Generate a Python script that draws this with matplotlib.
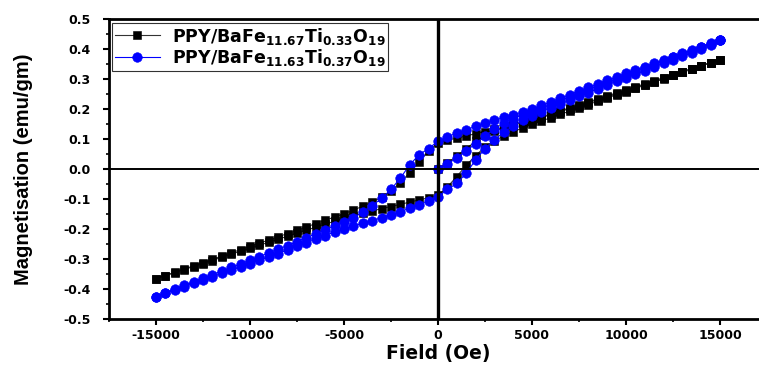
import matplotlib
matplotlib.use('Agg')
import matplotlib.pyplot as plt
from matplotlib.ticker import MultipleLocator, FormatStrFormatter

# ---------------- data ----------------
field_virgin = [0, 500, 1000, 1500, 2000, 2500, 3000, 3500, 4000, 4500, 5000,
                5500, 6000, 6500, 7000, 7500, 8000, 8500, 9000, 9500, 10000,
                10500, 11000, 11500, 12000, 12500, 13000, 13500, 14000, 14500, 15000]

field_down = [15000, 14500, 14000, 13500, 13000, 12500, 12000, 11500, 11000, 10500,
              10000, 9500, 9000, 8500, 8000, 7500, 7000, 6500, 6000, 5500,
              5000, 4500, 4000, 3500, 3000, 2500, 2000, 1500, 1000, 500,
              0, -500, -1000, -1500, -2000, -2500, -3000, -3500, -4000, -4500,
              -5000, -5500, -6000, -6500, -7000, -7500, -8000, -8500, -9000, -9500,
              -10000, -10500, -11000, -11500, -12000, -12500, -13000, -13500, -14000, -14500,
              -15000]

field_up = [-15000, -14500, -14000, -13500, -13000, -12500, -12000, -11500, -11000, -10500,
            -10000, -9500, -9000, -8500, -8000, -7500, -7000, -6500, -6000, -5500,
            -5000, -4500, -4000, -3500, -3000, -2500, -2000, -1500, -1000, -500,
            0, 500, 1000, 1500, 2000, 2500, 3000, 3500, 4000, 4500,
            5000, 5500, 6000, 6500, 7000, 7500, 8000, 8500, 9000, 9500,
            10000, 10500, 11000, 11500, 12000, 12500, 13000, 13500, 14000, 14500,
            15000]

# PPY/BaFe11.67Ti0.33O19 (black squares)
black_virgin = [0.000, 0.020, 0.043, 0.068, 0.092, 0.112, 0.127, 0.137, 0.146, 0.154, 0.161,
                0.171, 0.181, 0.191, 0.201, 0.211, 0.221, 0.231, 0.241, 0.251, 0.261,
                0.271, 0.281, 0.291, 0.302, 0.312, 0.322, 0.333, 0.343, 0.354, 0.365]
black_down = [0.365, 0.355, 0.345, 0.335, 0.325, 0.315, 0.305, 0.294, 0.284, 0.274,
              0.264, 0.254, 0.244, 0.234, 0.224, 0.214, 0.204, 0.194, 0.184, 0.174,
              0.164, 0.156, 0.148, 0.140, 0.132, 0.125, 0.118, 0.110, 0.103, 0.096,
              0.088, 0.060, 0.025, -0.012, -0.045, -0.073, -0.094, -0.110, -0.124, -0.137,
              -0.149, -0.160, -0.171, -0.182, -0.193, -0.204, -0.215, -0.226, -0.237, -0.247,
              -0.258, -0.269, -0.279, -0.290, -0.301, -0.312, -0.323, -0.333, -0.344, -0.355,
              -0.365]
black_up = [-0.365, -0.355, -0.345, -0.335, -0.325, -0.315, -0.305, -0.294, -0.284, -0.274,
            -0.264, -0.254, -0.244, -0.234, -0.224, -0.214, -0.204, -0.194, -0.184, -0.174,
            -0.164, -0.156, -0.148, -0.140, -0.132, -0.125, -0.118, -0.110, -0.103, -0.096,
            -0.088, -0.060, -0.025, 0.012, 0.045, 0.073, 0.094, 0.110, 0.124, 0.137,
            0.149, 0.160, 0.171, 0.182, 0.193, 0.204, 0.215, 0.226, 0.237, 0.247,
            0.258, 0.269, 0.279, 0.290, 0.301, 0.312, 0.323, 0.333, 0.344, 0.355,
            0.365]

# PPY/BaFe11.63Ti0.37O19 (blue circles)
blue_virgin = [0.000, 0.017, 0.037, 0.060, 0.085, 0.110, 0.133, 0.153, 0.168, 0.180, 0.191,
               0.203, 0.215, 0.228, 0.240, 0.252, 0.265, 0.277, 0.289, 0.301, 0.313,
               0.325, 0.336, 0.348, 0.360, 0.372, 0.383, 0.395, 0.407, 0.418, 0.430]
blue_down = [0.430, 0.419, 0.408, 0.397, 0.386, 0.375, 0.364, 0.352, 0.341, 0.330,
             0.319, 0.307, 0.296, 0.284, 0.272, 0.260, 0.248, 0.236, 0.224, 0.212,
             0.200, 0.190, 0.181, 0.172, 0.162, 0.152, 0.142, 0.131, 0.120, 0.107,
             0.093, 0.068, 0.048, 0.014, -0.030, -0.068, -0.098, -0.122, -0.144, -0.162,
             -0.177, -0.190, -0.203, -0.216, -0.229, -0.242, -0.255, -0.267, -0.280, -0.292,
             -0.304, -0.316, -0.328, -0.340, -0.352, -0.364, -0.376, -0.388, -0.400, -0.412,
             -0.425]
blue_up = [-0.425, -0.414, -0.403, -0.392, -0.381, -0.370, -0.359, -0.348, -0.337, -0.326,
           -0.315, -0.304, -0.293, -0.282, -0.270, -0.258, -0.246, -0.234, -0.222, -0.210,
           -0.200, -0.190, -0.181, -0.172, -0.162, -0.152, -0.142, -0.131, -0.120, -0.107,
           -0.093, -0.068, -0.048, -0.014, 0.030, 0.068, 0.098, 0.122, 0.144, 0.162,
           0.177, 0.190, 0.203, 0.216, 0.229, 0.242, 0.255, 0.267, 0.280, 0.292,
           0.304, 0.316, 0.328, 0.340, 0.352, 0.364, 0.376, 0.388, 0.400, 0.412,
           0.430]

label_black = r'PPY/BaFe$_{11.67}$Ti$_{0.33}$O$_{19}$'
label_blue = r'PPY/BaFe$_{11.63}$Ti$_{0.37}$O$_{19}$'

x_label = 'Field (Oe)'
y_label = 'Magnetisation (emu/gm)'

# ---------------- figure ----------------
plt.rcParams['font.family'] = ['DejaVu Sans']
plt.rcParams['font.weight'] = 'bold'
plt.rcParams['axes.unicode_minus'] = False
plt.rcParams['mathtext.fontset'] = 'dejavusans'
plt.rcParams['mathtext.default'] = 'bf'

fig = plt.figure(figsize=(7.59, 3.65), dpi=100)
ax = fig.add_axes([109 / 759, 46 / 365, 658 / 759, 300 / 365])

bx = field_virgin + field_down + field_up
by = black_virgin + black_down + black_up
ux = field_virgin + field_down + field_up
uy = blue_virgin + blue_down + blue_up

ax.plot(bx, by, color='#333333', lw=0.8, marker='s', ms=6.3, mew=0.4,
        mfc='black', mec='black', label=label_black, zorder=2)
ax.plot(ux, uy, color='#0000FF', lw=0.8, marker='o', ms=6.9, mew=0.4,
        mfc='#0000FF', mec='#0000FF', label=label_blue, zorder=3)

ax.axvline(0, color='black', lw=2.4, zorder=4)
ax.axhline(0, color='black', lw=1.4, zorder=4)

ax.set_xlim(-17500, 17500)
ax.set_ylim(-0.5, 0.5)

ax.xaxis.set_major_locator(MultipleLocator(5000))
ax.xaxis.set_minor_locator(MultipleLocator(2500))
ax.yaxis.set_major_locator(MultipleLocator(0.1))
ax.yaxis.set_minor_locator(MultipleLocator(0.05))
ax.yaxis.set_major_formatter(FormatStrFormatter('%.1f'))
ax.xaxis.set_major_formatter(FormatStrFormatter('%d'))

for side in ['left', 'bottom', 'top']:
    ax.spines[side].set_linewidth(2.0)
ax.spines['right'].set_visible(False)

ax.tick_params(which='major', direction='out', length=4, width=1.5,
               labelsize=9, pad=3, top=False, right=False)
ax.tick_params(which='minor', direction='out', length=2.5, width=1.2,
               top=False, right=False)
ax.tick_params(axis='y', which='major', pad=9)

ax.set_xlabel(x_label, fontsize=13.5, fontweight='bold', labelpad=2)
ax.set_ylabel(y_label, fontsize=14.5, fontweight='bold',
              family='Liberation Sans')
ax.yaxis.set_label_coords(-(109 - 33) / 658, 0.5)

leg = ax.legend(loc='upper left', bbox_to_anchor=(0.005, 0.987), borderaxespad=0,
                fontsize=12.5, frameon=True, fancybox=False, edgecolor='black',
                handlelength=2.6, handletextpad=0.7, borderpad=0.15,
                labelspacing=0.05)
leg.get_frame().set_linewidth(0.8)

fig.savefig('out.png', dpi=100)
